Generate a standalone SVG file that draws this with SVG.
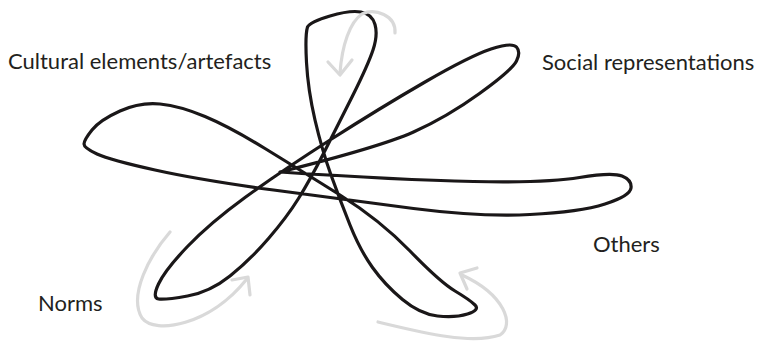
<svg xmlns="http://www.w3.org/2000/svg" width="761" height="343" viewBox="0 0 761 343">
<style>
.lbl{font-family:"Lato","Open Sans","Liberation Sans",sans-serif;font-size:22px;fill:#231f20}
.loop{fill:none;stroke:#1a1718;stroke-width:3.2;stroke-linejoin:round;stroke-linecap:round}
.garr{fill:none;stroke:#d9d9d9;stroke-width:3.2;stroke-linecap:round;stroke-linejoin:round}
</style>
<rect width="761" height="343" fill="#ffffff"/>
<g id="flower">
<path class="loop" d="M 92 130 Q 100 120 120 111 Q 140 102 160 104 Q 180 106 205 116.5 Q 230 127 265 148.5 Q 300 170 340 195 Q 380 220 410 251 Q 440 282 455 291 Q 470 300 475 305 Q 480 310 467.5 314 Q 455 318 437.5 316 Q 420 314 402.5 299.5 Q 385 285 372.5 267.5 Q 360 250 350 225 Q 340 200 331 175 Q 322 150 315 120 Q 308 90 306.5 62.5 Q 305 35 307.5 27 Q 310 22 330 16 Q 350 10 361 12 Q 372 14 375 24.5 Q 378 35 373 50 Q 368 65 352.5 96 Q 337 127 323.5 153.5 Q 310 180 298.5 198.5 Q 287 217 268.5 238.5 Q 250 260 230 276 Q 210 292 187.5 296 Q 165 300 158.5 299 Q 152 298 158.5 284 Q 165 270 187.5 246.5 Q 210 223 245 197.5 Q 280 172 330 140 Q 380 108 425 82 Q 470 56 491 49 Q 512 42 516.5 47 Q 521 52 516.5 61 Q 512 70 479.5 93.5 Q 447 117 413.5 132 Q 380 147 280 172 Q 400 180 473.5 181.5 Q 547 183 579.5 177.5 Q 612 172 622 176 Q 632 180 631 188 Q 630 196 605 204 Q 580 212 530 214.5 Q 480 217 413.5 208.5 Q 347 200 273.5 190 Q 200 180 155 170 Q 110 160 97 154 Q 84 148 84 144 Q 84 140 92 130 Z"/>
</g>
<g id="arrows">
<g id="arrow-top">
<path class="garr" d="M 395 33 C 396 15 375 8 362 14 C 350 22 342 45 340 73"/>
<path class="garr" d="M 328 62 L 340 75 L 352 60"/>
</g>
<g id="arrow-left">
<path class="garr" d="M 170 232 C 150 255 128 295 142 318 C 155 335 210 325 246 280"/>
<path class="garr" d="M 232 280 L 248 277 L 250 295"/>
</g>
<g id="arrow-right">
<path class="garr" d="M 378 322 C 420 332 470 345 500 335 C 515 325 505 295 462 275"/>
<path class="garr" d="M 477 268 L 460 273 L 467 289"/>
</g>
</g>
<g id="label-cultural"><text class="lbl" x="8" y="69">Cultural elements/artefacts</text></g>
<g id="label-social"><text class="lbl" x="542" y="70">Social representations</text></g>
<g id="label-others"><text class="lbl" x="593" y="252">Others</text></g>
<g id="label-norms"><text class="lbl" x="38" y="311">Norms</text></g>
</svg>
